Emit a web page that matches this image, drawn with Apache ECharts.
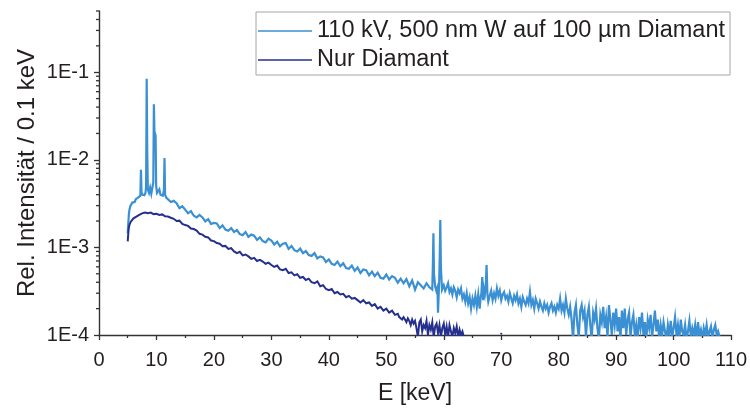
<!DOCTYPE html>
<html>
<head>
<meta charset="utf-8">
<script src="https://cdn.jsdelivr.net/npm/echarts@6/dist/echarts.min.js"></script>
<style>
  html, body { margin: 0; padding: 0; background: #ffffff; }
  #chart { width: 750px; height: 410px; }
</style>
</head>
<body>
<div id="chart"></div>
<script>
// Spectrum: 110 kV, 500 nm tungsten on 100 µm diamond  [energy keV, rel. intensity per 0.1 keV]
const spectrumW = [
  [5.0,1.45e-3],[5.1,1.9e-3],[5.2,2.4e-3],[5.3,2.7e-3],[5.45,2.95e-3],[5.6,3.1e-3],[5.8,3.25e-3],[6.0,3.35e-3],
  [6.2,3.3e-3],[6.4,3.55e-3],[6.6,3.5e-3],[6.8,3.7e-3],[7.0,3.65e-3],[7.1,3.85e-3],[7.2,3.9e-3],[7.3,7.7e-3],
  [7.4,4.3e-3],[7.5,4.0e-3],[7.7,4.1e-3],[7.9,3.95e-3],[8.1,4.2e-3],[8.2,5.0e-3],[8.3,8.4e-2],[8.4,1.2e-2],
  [8.5,4.6e-3],[8.7,4.2e-3],[8.9,4.8e-3],[9.1,4.1e-3],[9.3,4.3e-3],[9.45,5.5e-3],[9.55,4.3e-2],[9.65,2.1e-2],
  [9.75,2.0e-2],[9.85,1.9e-2],[9.95,5.0e-3],[10.1,4.2e-3],[10.3,4.0e-3],[10.5,4.6e-3],[10.7,4.0e-3],[10.9,4.1e-3],
  [11.1,3.9e-3],[11.3,4.5e-3],[11.4,1.05e-2],[11.5,4.0e-3],[11.7,3.7e-3],
  [12.0,3.75e-3],[12.5,3.3e-3],[13.0,3.4e-3],[13.5,3.2e-3],[14.0,2.8e-3],[14.5,2.95e-3],[15.0,2.7e-3],[15.5,2.45e-3],
  [16.0,2.6e-3],[16.5,2.3e-3],[17.0,2.2e-3],[17.5,2.35e-3],[18.0,2.2e-3],[18.5,1.98e-3],[19.0,2.1e-3],[19.5,1.85e-3],
  [20.0,1.9e-3],[20.5,1.88e-3],[21.0,1.66e-3],[21.5,1.78e-3],[22.0,1.6e-3],[22.5,1.55e-3],[23.0,1.66e-3],[23.5,1.5e-3],
  [24.0,1.58e-3],[24.5,1.42e-3],[25.0,1.38e-3],[25.5,1.5e-3],[26.0,1.32e-3],[26.5,1.4e-3],[27.0,1.36e-3],[27.5,1.22e-3],
  [28.0,1.3e-3],[28.5,1.18e-3],[29.0,1.14e-3],[29.5,1.26e-3],[30.0,1.2e-3],[30.5,1.08e-3],[31.0,1.16e-3],[31.5,1.03e-3],
  [32.0,1.1e-3],[32.5,1.12e-3],[33.0,9.6e-4],[33.5,1.04e-3],[34.0,9.3e-4],[34.5,9.0e-4],[35.0,9.7e-4],[35.5,8.6e-4],
  [36.0,9.1e-4],[36.5,8.2e-4],[37.0,8.0e-4],[37.5,8.6e-4],[38.0,7.5e-4],[38.5,7.9e-4],[39.0,7.7e-4],[39.5,6.8e-4],
  [40.0,7.3e-4],[40.5,6.5e-4],[41.0,6.3e-4],[41.5,6.9e-4],[42.0,6.1e-4],[42.5,6.6e-4],[43.0,5.8e-4],[43.5,5.7e-4],
  [44.0,6.2e-4],[44.5,5.4e-4],[45.0,5.9e-4],[45.5,5.1e-4],[46.0,5.6e-4],[46.5,5.5e-4],[47.0,4.8e-4],[47.5,5.3e-4],
  [48.0,4.7e-4],[48.5,5.15e-4],[49.0,4.5e-4],[49.5,4.4e-4],[50.0,4.9e-4],[50.5,4.3e-4],[51.0,4.7e-4],[51.5,4.5e-4],
  [52.0,3.95e-4],[52.5,4.4e-4],[53.0,3.9e-4],[53.5,4.35e-4],[54.0,3.6e-4],[54.5,4.2e-4],[55.0,3.3e-4],[55.5,4.0e-4],
  [56.0,3.7e-4],[56.5,3.4e-4],[57.0,3.9e-4],[57.5,3.5e-4],
  // W K-alpha
  [57.8,3.6e-4],[58.0,3.3e-4],[58.1,6.0e-4],[58.2,1.45e-3],[58.3,5.0e-4],[58.5,3.6e-4],[58.7,3.2e-4],[58.9,3.5e-4],
  [59.0,1.8e-4],[59.2,4.0e-4],[59.3,8.0e-4],[59.4,2.05e-3],[59.5,6.0e-4],[59.7,3.3e-4],
  [60.0,3.7e-4],[60.25,3.2e-4],[60.5,3.5e-4],[60.75,3.9e-4],[61.0,3.1e-4],[61.25,3.4e-4],[61.5,2.9e-4],[61.75,3.5e-4],
  [62.0,3.2e-4],[62.25,2.7e-4],[62.5,3.3e-4],[62.75,3.0e-4],[63.0,3.4e-4],[63.25,2.6e-4],[63.5,2.9e-4],[63.75,2.4e-4],
  [64.0,3.0e-4],[64.25,2.3e-4],[64.5,2.7e-4],[64.75,2.0e-4],[65.0,2.6e-4],[65.25,2.2e-4],[65.5,2.8e-4],[65.75,2.1e-4],
  [66.0,2.9e-4],[66.25,2.0e-4],
  // W K-beta
  [66.4,2.6e-4],[66.55,3.0e-4],[66.7,4.6e-4],[66.85,2.5e-4],[67.0,3.3e-4],[67.15,2.9e-4],[67.3,3.5e-4],[67.45,6.3e-4],
  [67.6,2.9e-4],[67.75,2.4e-4],
  [68.0,2.8e-4],[68.25,3.2e-4],[68.5,2.5e-4],[68.75,3.0e-4],[69.0,2.6e-4],[69.25,3.4e-4],[69.5,2.8e-4],[69.75,3.2e-4],
  [70.0,2.5e-4],[70.25,2.9e-4],[70.5,3.1e-4],[70.75,2.6e-4],[71.0,2.8e-4],[71.25,2.4e-4],[71.5,3.0e-4],[71.75,2.6e-4],
  [72.0,2.3e-4],[72.25,2.8e-4],[72.5,2.5e-4],[72.75,2.9e-4],[73.0,2.3e-4],[73.25,2.6e-4],[73.5,2.1e-4],[73.75,2.7e-4],
  [74.0,2.4e-4],[74.25,2.2e-4],[74.5,2.6e-4],[74.75,2.3e-4],[75.0,3.1e-4],[75.25,2.2e-4],[75.5,2.5e-4],[75.75,2.0e-4],
  [76.0,2.6e-4],[76.25,2.3e-4],[76.5,2.0e-4],[76.75,2.4e-4],[77.0,2.1e-4],[77.25,1.9e-4],[77.5,2.3e-4],[77.75,2.0e-4],
  [78.0,2.2e-4],[78.25,1.8e-4],[78.5,2.1e-4],[78.75,2.3e-4],[79.0,1.9e-4],[79.25,2.1e-4],[79.5,1.8e-4],[79.75,2.2e-4],
  [80.0,2.0e-4],[80.25,2.6e-4],[80.5,1.9e-4],[80.75,2.2e-4],[81.0,1.8e-4],[81.25,2.6e-4],[81.5,2.0e-4],[81.75,1.7e-4],
  [82.0,2.1e-4],[82.25,1.5e-4],[82.5,9.0e-5],[82.75,1.8e-4],[83.0,2.2e-4],[83.25,1.3e-4],[83.5,9.5e-5],[83.75,1.9e-4],
  [84.0,2.2e-4],[84.25,1.6e-4],[84.5,1.9e-4],[84.75,9.5e-5],[85.0,1.7e-4],[85.25,2.1e-4],[85.5,1.3e-4],[85.75,9.0e-5],
  [86.0,1.8e-4],[86.25,1.5e-4],[86.5,2.0e-4],[86.75,1.2e-4],[87.0,9.0e-5],[87.25,1.7e-4],[87.5,1.4e-4],[87.75,2.1e-4],
  [88.0,1.2e-4],[88.25,1.6e-4],[88.5,9.5e-5],[88.75,2.2e-4],[89.0,1.5e-4],[89.25,1.0e-4],[89.5,1.8e-4],[89.75,1.3e-4],
  [90.0,2.0e-4],[90.25,1.1e-4],[90.5,1.6e-4],[90.75,9.0e-5],[91.0,1.9e-4],[91.25,1.2e-4],[91.5,2.0e-4],[91.75,1.0e-4],
  [92.0,1.5e-4],[92.25,1.8e-4],[92.5,9.5e-5],[92.75,1.4e-4],[93.0,1.7e-4],[93.25,1.0e-4],[93.5,1.3e-4],[93.75,9.0e-5],
  [94.0,1.6e-4],[94.25,1.2e-4],[94.5,1.8e-4],[94.75,1.0e-4],[95.0,1.4e-4],[95.25,9.0e-5],[95.5,1.5e-4],[95.75,1.2e-4],
  [96.0,1.7e-4],[96.25,9.5e-5],[96.5,1.3e-4],[96.75,1.9e-4],[97.0,1.1e-4],[97.25,1.5e-4],[97.5,9.0e-5],[97.75,1.3e-4],
  [98.0,1.0e-4],[98.25,1.4e-4],[98.5,1.1e-4],[98.75,9.0e-5],[99.0,1.3e-4],[99.25,1.0e-4],[99.5,1.45e-4],[99.75,9.5e-5],
  [100.0,1.2e-4],[100.25,1.6e-4],[100.5,1.0e-4],[100.75,1.3e-4],[101.0,9.0e-5],[101.25,1.5e-4],[101.5,1.1e-4],[101.75,1.0e-4],
  [102.0,1.3e-4],[102.25,9.0e-5],[102.5,1.1e-4],[102.75,1.45e-4],[103.0,9.5e-5],[103.25,1.2e-4],[103.5,1.0e-4],[103.75,1.3e-4],
  [104.0,9.0e-5],[104.25,1.4e-4],[104.5,1.0e-4],[104.75,1.15e-4],[105.0,9.0e-5],[105.25,1.2e-4],[105.5,1.0e-4],[105.75,1.3e-4],
  [106.0,9.5e-5],[106.25,1.1e-4],[106.5,1.25e-4],[106.75,9.0e-5],[107.0,1.15e-4],[107.25,1.3e-4],[107.5,1.0e-4],[107.75,1.1e-4],
  [108.0,9.5e-5]
];

// Spectrum: diamond only
const spectrumDiamond = [
  [5.0,1.17e-3],[5.1,1.45e-3],[5.2,1.7e-3],[5.35,1.85e-3],[5.5,1.95e-3],[5.75,2.05e-3],[6.0,2.15e-3],[6.5,2.25e-3],
  [7.0,2.35e-3],[7.5,2.45e-3],[8.0,2.5e-3],[8.5,2.45e-3],[9.0,2.5e-3],[9.5,2.4e-3],[10.0,2.42e-3],[10.5,2.35e-3],
  [11.0,2.38e-3],[11.5,2.26e-3],[12.0,2.25e-3],[12.5,2.18e-3],[13.0,2.12e-3],[13.5,2.0e-3],[14.0,2.02e-3],[14.5,1.86e-3],
  [15.0,1.8e-3],[15.5,1.76e-3],[16.0,1.64e-3],[16.5,1.62e-3],[17.0,1.56e-3],[17.5,1.43e-3],[18.0,1.4e-3],[18.5,1.32e-3],
  [19.0,1.3e-3],[19.5,1.2e-3],[20.0,1.18e-3],[20.5,1.12e-3],[21.0,1.1e-3],[21.5,1.03e-3],[22.0,1.04e-3],[22.5,9.6e-4],
  [23.0,9.8e-4],[23.5,9.0e-4],[24.0,8.6e-4],[24.5,8.9e-4],[25.0,8.1e-4],[25.5,8.3e-4],[26.0,7.9e-4],[26.5,7.4e-4],
  [27.0,7.6e-4],[27.5,7.0e-4],[28.0,7.2e-4],[28.5,6.9e-4],[29.0,6.5e-4],[29.5,6.7e-4],[30.0,6.3e-4],[30.5,6.0e-4],
  [31.0,6.2e-4],[31.5,5.6e-4],[32.0,5.5e-4],[32.5,5.7e-4],[33.0,5.1e-4],[33.5,5.2e-4],[34.0,4.8e-4],[34.5,4.95e-4],
  [35.0,4.5e-4],[35.5,4.6e-4],[36.0,4.25e-4],[36.5,4.4e-4],[37.0,4.0e-4],[37.5,3.9e-4],[38.0,4.1e-4],[38.5,3.6e-4],
  [39.0,3.7e-4],[39.5,3.35e-4],[40.0,3.25e-4],[40.5,3.35e-4],[41.0,3.0e-4],[41.5,3.1e-4],[42.0,2.9e-4],[42.5,2.95e-4],
  [43.0,2.7e-4],[43.5,2.8e-4],[44.0,2.6e-4],[44.5,2.65e-4],[45.0,2.5e-4],[45.5,2.35e-4],[46.0,2.5e-4],[46.5,2.3e-4],
  [47.0,2.35e-4],[47.5,2.15e-4],[48.0,2.25e-4],[48.5,2.0e-4],[49.0,2.1e-4],[49.5,1.9e-4],[50.0,2.0e-4],[50.5,1.8e-4],
  [51.0,1.9e-4],[51.5,1.7e-4],
  [52.0,1.75e-4],[52.25,1.6e-4],[52.5,1.65e-4],[52.75,1.5e-4],[53.0,1.6e-4],[53.25,1.5e-4],[53.5,1.4e-4],[53.75,1.55e-4],
  [54.0,1.45e-4],[54.25,1.3e-4],[54.5,1.5e-4],[54.75,1.35e-4],[55.0,1.45e-4],[55.25,1.2e-4],[55.5,9.5e-5],[55.75,1.4e-4],
  [56.0,1.5e-4],[56.25,1.1e-4],[56.5,1.3e-4],[56.75,1.2e-4],[57.0,1.45e-4],[57.25,1.0e-4],[57.5,1.3e-4],[57.75,1.15e-4],
  [58.0,1.4e-4],[58.25,9.5e-5],[58.5,1.25e-4],[58.75,1.35e-4],[59.0,1.05e-4],[59.25,1.3e-4],[59.5,9.5e-5],[59.75,1.2e-4],
  [60.0,1.35e-4],[60.25,1.0e-4],[60.5,1.25e-4],[60.75,9.5e-5],[61.0,1.3e-4],[61.25,1.1e-4],[61.5,9.5e-5],[61.75,1.2e-4],
  [62.0,1.05e-4],[62.25,1.25e-4],[62.5,9.5e-5],[62.75,1.15e-4],[63.0,1.0e-4],[63.25,1.1e-4],[63.5,9.5e-5],
  [66.0,null],
  [69.9,1.02e-4],[70.1,1.05e-4]
];

const seriesNames = ['110 kV, 500 nm W auf 100 µm Diamant', 'Nur Diamant'];
const seriesColors = ['#3a90d2', '#252f8e'];
const xTicks = { min: 0, max: 110, step: 10 };
const yRange = { min: 1e-4, max: 0.5 };
const yMajorTicks = [1e-4, 1e-3, 1e-2, 1e-1];

const FONT = '"Liberation Sans", Arial, sans-serif';
const INK = '#231f20';

const chart = echarts.init(document.getElementById('chart'), null, { renderer: 'canvas' });

chart.setOption({
  animation: false,
  backgroundColor: '#ffffff',
  textStyle: { fontFamily: FONT, color: INK },
  grid: { left: 99, top: 11, right: 18, bottom: 75 },
  legend: {
    left: 256, top: 12,
    orient: 'vertical',
    data: seriesNames,
    icon: 'rect',
    itemWidth: 54, itemHeight: 1.6, itemGap: 5,
    padding: [7, 5, 3, 2],
    borderColor: '#a6a6a6', borderWidth: 1,
    textStyle: { fontSize: 23.5, color: INK, fontFamily: FONT }
  },
  xAxis: {
    type: 'value',
    min: xTicks.min, max: xTicks.max, interval: xTicks.step,
    name: 'E [keV]', nameLocation: 'middle', nameGap: 47,
    nameTextStyle: { fontSize: 23, color: INK, fontFamily: FONT },
    axisLine: { lineStyle: { color: '#333', width: 1.4 } },
    axisTick: { length: 5, lineStyle: { color: '#333', width: 1.3 } },
    minorTick: { show: true, splitNumber: 2, length: 3, lineStyle: { color: '#333', width: 1.3 } },
    axisLabel: { fontSize: 20, color: INK, margin: 15, fontFamily: FONT },
    splitLine: { show: false }
  },
  yAxis: {
    type: 'log', logBase: 10,
    min: yRange.min, max: yRange.max,
    name: 'Rel. Intensität / 0.1 keV', nameLocation: 'middle', nameGap: 60,
    nameMoveOverlap: false,
    nameTextStyle: { fontSize: 24, color: INK, fontFamily: FONT },
    axisLine: { show: true, lineStyle: { color: '#333', width: 1.4 } },
    axisTick: { show: true, length: 5, customValues: yMajorTicks, lineStyle: { color: '#333', width: 1.3 } },
    axisLabel: {
      fontSize: 20, color: INK, margin: 10, fontFamily: FONT,
      customValues: yMajorTicks,
      formatter: function (v) {
        const e = Math.round(Math.log10(v));
        if (Math.abs(v / Math.pow(10, e) - 1) > 1e-6) return '';
        return '1E' + e;
      }
    },
    splitLine: { show: false }
  },
  series: [
    {
      name: seriesNames[0], type: 'line', data: spectrumW,
      symbol: 'none', showSymbol: false, clip: true, sampling: null,
      color: seriesColors[0],
      lineStyle: { color: seriesColors[0], width: 2.2, join: 'miter' }
    },
    {
      name: seriesNames[1], type: 'line', data: spectrumDiamond,
      symbol: 'none', showSymbol: false, clip: true, connectNulls: false,
      color: seriesColors[1],
      lineStyle: { color: seriesColors[1], width: 2, join: 'miter' }
    }
  ]
});

// Minor ticks of the logarithmic axis (2..9 within each decade)
const minorTicks = [];
const axisX = chart.convertToPixel({ xAxisIndex: 0 }, 0);
for (let e = -4; e <= -1; e++) {
  for (let k = 2; k <= 9; k++) {
    const v = k * Math.pow(10, e);
    if (v > yRange.max + 1e-9) continue;
    const y = chart.convertToPixel({ yAxisIndex: 0 }, v);
    minorTicks.push({
      type: 'line', silent: true,
      shape: { x1: axisX - 3, y1: y, x2: axisX, y2: y },
      style: { stroke: '#333', lineWidth: 1.3 }
    });
  }
}
chart.setOption({ graphic: minorTicks });
</script>
</body>
</html>
